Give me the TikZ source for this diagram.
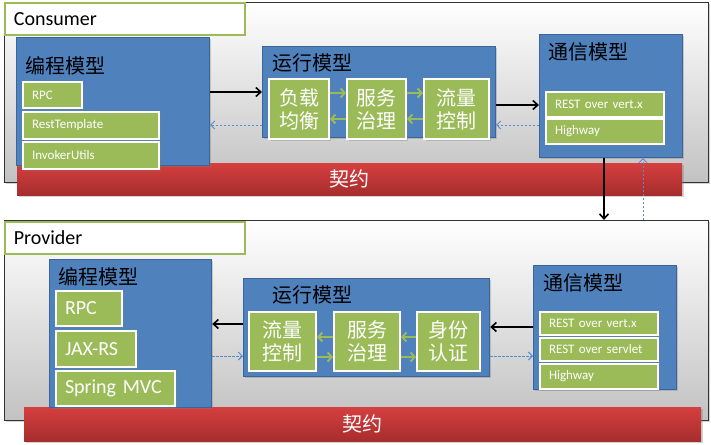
\documentclass[tikz,border=0pt]{standalone}
\usepackage{fontspec}
\setmainfont{Carlito}
\newfontfamily\cjk{Noto Sans CJK SC}
\usetikzlibrary{arrows.meta, positioning, shadows}

\definecolor{modelblue}{HTML}{4F81BD}
\definecolor{modeledge}{HTML}{3A659B}
\definecolor{itemgreen}{HTML}{9BBB59}
\definecolor{barred}{HTML}{D53F3F}
\definecolor{bardark}{HTML}{A62D2D}
\definecolor{panelgray}{HTML}{C2C2C2}
\definecolor{backblue}{HTML}{5A8AD0}

\tikzset{
  boxshadow/.style={drop shadow={shadow xshift=1.5pt, shadow yshift=-1.5pt, opacity=0.35}},
  panel/.style={draw=black!80, line width=0.8pt, top color=white, bottom color=panelgray,
    anchor=north west, inner sep=0pt, boxshadow},
  rolebox/.style={draw=itemgreen, line width=1.8pt, fill=white, anchor=north west,
    inner xsep=9pt, inner ysep=0pt, text width=222pt, minimum height=32pt, align=left,
    font=\fontsize{20}{22}\selectfont},
  contract/.style={top color=barred, bottom color=bardark, anchor=north west, inner sep=0pt,
    text=white, font=\cjk\fontsize{20}{22}\selectfont, boxshadow},
  modelbox/.style={draw=modeledge, line width=1.2pt, fill=modelblue, anchor=north west,
    inner sep=0pt, boxshadow},
  modeltitle/.style={anchor=west, inner sep=0pt, font=\cjk\fontsize{20}{22}\selectfont},
  itembox/.style={draw=white, line width=2pt, fill=itemgreen, anchor=north west,
    inner xsep=9pt, inner ysep=0pt, align=left, text=white, boxshadow},
  smallitem/.style={itembox, font=\fontsize{13}{15}\selectfont},
  bigitem/.style={itembox, font=\fontsize{20}{22}\selectfont},
  stagebox/.style={draw=white, line width=2pt, fill=itemgreen, anchor=north west,
    inner sep=0pt, align=center, text=white, font=\cjk\fontsize{20}{23}\selectfont, boxshadow},
  callflow/.style={draw=black, line width=1.6pt, -{Straight Barb[length=5pt, width=9pt]}},
  backflow/.style={draw=backblue, line width=0.9pt, dash pattern=on 2.5pt off 1.5pt,
    -{Straight Barb[length=4pt, width=8pt]}},
  stageflow/.style={draw=itemgreen, line width=2pt, -{Straight Barb[length=4pt, width=9pt]}}
}

\begin{document}
\begin{tikzpicture}[x=1pt, y=-1pt]
  \useasboundingbox (0,0) rectangle (711,444);

  % Consumer
  \node[panel, minimum width=704pt, minimum height=180pt] (cpanel) at (4,2) {};
  \node[rolebox] (crole) at (4,2) {Consumer};
  \node[contract, minimum width=665pt, minimum height=32pt] (cbar) at (17,163) {契约};

  \node[modelbox, minimum width=193pt, minimum height=128pt] (cprog) at (16,37) {};
  \node[modeltitle] (cprogt) at (25,66) {编程模型};
  \node[smallitem, text width=41pt, minimum height=26pt] (crpc) at (22,81) {RPC};
  \node[smallitem, text width=118pt, minimum height=27pt] (crest) at (22,111) {RestTemplate};
  \node[smallitem, text width=118pt, minimum height=27pt] (cinvoker) at (22,141) {InvokerUtils};

  \node[modelbox, minimum width=233pt, minimum height=91pt] (crun) at (262,46) {};
  \node[modeltitle] (crunt) at (272,63) {运行模型};
  \node[stagebox, minimum width=60pt, minimum height=60pt] (clb) at (268,78) {负载\\均衡};
  \node[stagebox, minimum width=59pt, minimum height=60pt] (cgov) at (346,78) {服务\\治理};
  \node[stagebox, minimum width=65pt, minimum height=60pt] (cflow) at (423,78) {流量\\控制};

  \node[modelbox, minimum width=143pt, minimum height=123pt] (ccomm) at (539,34) {};
  \node[modeltitle] (ccommt) at (548,52) {通信模型};
  \node[smallitem, text width=100pt, minimum height=25pt] (cvertx) at (545,91) {REST over vert.x};
  \node[smallitem, text width=100pt, minimum height=25pt] (chighway) at (545,118) {Highway};

  \draw[callflow] (cprog.east |- 0,92) -- (crun.west |- 0,92);
  \draw[backflow] (crun.west |- 0,125) -- (cprog.east |- 0,125);
  \draw[callflow] (crun.east |- 0,105) -- (ccomm.west |- 0,105);
  \draw[backflow] (ccomm.west |- 0,125) -- (crun.east |- 0,125);
  \draw[stageflow] (clb.east |- 0,93) -- (cgov.west |- 0,93);
  \draw[stageflow] (cgov.west |- 0,119) -- (clb.east |- 0,119);
  \draw[stageflow] (cgov.east |- 0,93) -- (cflow.west |- 0,93);
  \draw[stageflow] (cflow.west |- 0,119) -- (cgov.east |- 0,119);

  % Provider
  \node[panel, minimum width=704pt, minimum height=200pt] (ppanel) at (4,220) {};
  \node[rolebox] (prole) at (4,221) {Provider};
  \node[contract, minimum width=677pt, minimum height=34pt] (pbar) at (24,407) {契约};

  \node[modelbox, minimum width=162pt, minimum height=148pt] (pprog) at (49,259) {};
  \node[modeltitle] (pprogt) at (58,277) {编程模型};
  \node[bigitem, text width=48pt, minimum height=35pt] (prpc) at (55,290) {RPC};
  \node[bigitem, text width=62pt, minimum height=36pt] (pjaxrs) at (55,330) {JAX-RS};
  \node[bigitem, text width=101pt, minimum height=35pt] (pmvc) at (55,370) {Spring\ MVC};

  \node[modelbox, minimum width=246pt, minimum height=98pt] (prun) at (243,278) {};
  \node[modeltitle] (prunt) at (272,295) {运行模型};
  \node[stagebox, minimum width=67pt, minimum height=59pt] (pflow) at (248,311) {流量\\控制};
  \node[stagebox, minimum width=66pt, minimum height=59pt] (pgov) at (333,311) {服务\\治理};
  \node[stagebox, minimum width=63pt, minimum height=59pt] (pauth) at (416,311) {身份\\认证};

  \node[modelbox, minimum width=143pt, minimum height=124pt] (pcomm) at (533,265) {};
  \node[modeltitle] (pcommt) at (543,283) {通信模型};
  \node[smallitem, text width=100pt, minimum height=23pt] (pvertx) at (539,311) {REST over vert.x};
  \node[smallitem, text width=100pt, minimum height=23pt] (pservlet) at (539,337) {REST over servlet};
  \node[smallitem, text width=100pt, minimum height=25pt] (phighway) at (539,363) {Highway};

  \draw[callflow] (prun.west |- 0,324) -- (pprog.east |- 0,324);
  \draw[backflow] (pprog.east |- 0,356) -- (prun.west |- 0,356);
  \draw[callflow] (pcomm.west |- 0,327) -- (prun.east |- 0,327);
  \draw[backflow] (prun.east |- 0,356) -- (pcomm.west |- 0,356);
  \draw[stageflow] (pgov.west |- 0,337) -- (pflow.east |- 0,337);
  \draw[stageflow] (pflow.east |- 0,357) -- (pgov.west |- 0,357);
  \draw[stageflow] (pauth.west |- 0,337) -- (pgov.east |- 0,337);
  \draw[stageflow] (pgov.east |- 0,357) -- (pauth.west |- 0,357);

  % between consumer and provider
  \draw[callflow] (ccomm.south -| 604,0) -- (ppanel.north -| 604,0);
  \draw[backflow] (ppanel.north -| 643,0) -- (ccomm.south -| 643,0);
\end{tikzpicture}
\end{document}
